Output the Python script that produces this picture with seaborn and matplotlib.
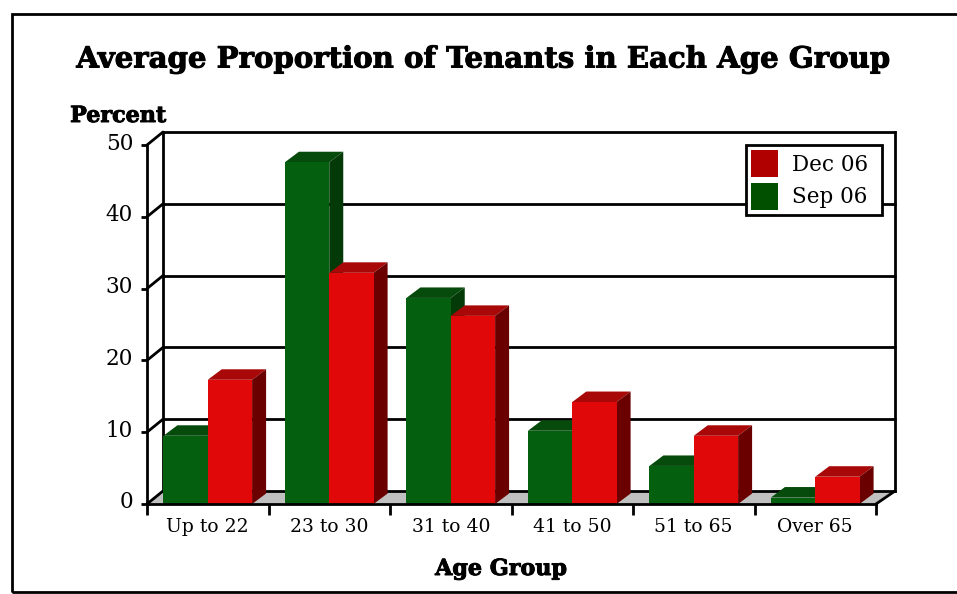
import numpy as np
import pandas as pd
import matplotlib
matplotlib.use('Agg')
import matplotlib.pyplot as plt
import matplotlib.patheffects as pe
from matplotlib.patches import Patch, Polygon, Rectangle
from matplotlib.transforms import ScaledTranslation
import seaborn as sns

age_groups = ['Up to 22', '23 to 30', '31 to 40', '41 to 50', '51 to 65', 'Over 65']
sep_06 = [9.5, 47.6, 28.7, 10.2, 5.3, 0.9]
dec_06 = [17.3, 32.2, 26.2, 14.2, 9.5, 3.8]
y_ticks = [0, 10, 20, 30, 40, 50]

df = pd.DataFrame({
    'age': age_groups * 2,
    'pct': sep_06 + dec_06,
    'month': ['Sep 06'] * 6 + ['Dec 06'] * 6,
})

sns.set_style('white')
plt.rcParams['font.family'] = ['DejaVu Serif']
plt.rcParams['text.color'] = 'black'
plt.rcParams['xtick.color'] = 'black'
plt.rcParams['ytick.color'] = 'black'

W, H = 957, 594
fig = plt.figure(figsize=(W / 100, H / 100), dpi=100)
# front plane of the fake 3d box, in pixels
left, right, top, bottom = 147, 876, 145, 504
ax = fig.add_axes([left / W, 1 - bottom / H, (right - left) / W, (bottom - top) / H])

sns.barplot(data=df, x='age', y='pct', hue='month', order=age_groups,
            hue_order=['Sep 06', 'Dec 06'], palette=['#04600f', '#e00808'],
            width=0.73, gap=0, saturation=1, legend=False, ax=ax)
ax.set_xlim(-0.5, 5.5)
ax.set_ylim(0, 50)

# pixel sizes to data units
ux = 6 / (right - left)
uy = 50 / (bottom - top)
back_dx, back_dy = 16 * ux, 13 * uy
back_right = 5.5 + 19 * ux
bar_dx, bar_dy = 14 * ux, 10.5 * uy

# depth faces
depth_colors = {0: ('#064a0c', '#033a08'), 1: ('#a80808', '#6b0000')}
for i, bar in enumerate(ax.patches[:12]):
    s = i // 6
    x0, x1, h = bar.get_x(), bar.get_x() + bar.get_width(), bar.get_height()
    bar.set_zorder(4 + 2 * s)
    bar.set_linewidth(0)
    ax.add_patch(Polygon([(x0, h), (x1, h), (x1 + bar_dx, h + bar_dy), (x0 + bar_dx, h + bar_dy)],
                         fc=depth_colors[s][0], lw=0, zorder=3 + 2 * s, clip_on=False))
    ax.add_patch(Polygon([(x1, 0), (x1 + bar_dx, bar_dy), (x1 + bar_dx, h + bar_dy), (x1, h)],
                         fc=depth_colors[s][1], lw=0, zorder=3 + 2 * s, clip_on=False))

# floor
ax.add_patch(Polygon([(-0.5, 0), (-0.5 + back_dx, back_dy), (back_right, back_dy), (5.5, 0)],
                     fc='#c0c0c0', lw=0, zorder=1, clip_on=False))
# back wall grid and the short diagonals
for v in y_ticks:
    ax.plot([-0.5 + back_dx, back_right], [v + back_dy, v + back_dy], color='black', lw=2,
            zorder=2, clip_on=False)
    ax.plot([-0.5, -0.5 + back_dx], [v, v + back_dy], color='black', lw=2, zorder=2, clip_on=False)
ax.plot([-0.5 + back_dx] * 2, [back_dy, 50 + back_dy], color='black', lw=2, zorder=2, clip_on=False)
ax.plot([back_right] * 2, [back_dy, 50 + back_dy], color='black', lw=2, zorder=2, clip_on=False,
        solid_capstyle='projecting')
ax.plot([5.5, back_right], [0, back_dy], color='black', lw=2, zorder=2, clip_on=False)

sns.despine(ax=ax, top=True, right=True)
for sp in ['left', 'bottom']:
    ax.spines[sp].set_linewidth(2)
    ax.spines[sp].set_color('black')
    ax.spines[sp].set_zorder(8)

ax.set_xlabel('')
ax.set_ylabel('')
ax.set_xticks(range(6), age_groups)
ax.set_xticks(np.arange(-0.5, 6), minor=True)
ax.tick_params(axis='x', which='major', length=0, labelsize=13.5, pad=10, colors='black')
ax.tick_params(axis='x', which='minor', length=8, width=2, color='black', bottom=True)
ax.set_yticks(y_ticks)
ax.tick_params(axis='y', length=4, width=2, left=True, color='black', labelsize=15.5, pad=6,
               labelcolor='black')
# numbers sit a little above their ticks
for lab in ax.get_yticklabels():
    lab.set_transform(lab.get_transform() + ScaledTranslation(0, 4 / 100, fig.dpi_scale_trans))

handles = [Patch(fc='#b00000', lw=0, label='Dec 06'), Patch(fc='#005000', lw=0, label='Sep 06')]
leg = fig.legend(handles=handles, loc='upper left',
                 bbox_to_anchor=(745.5 / W, 1 - 215 / H, 136 / W, 70 / H),
                 bbox_transform=fig.transFigure, mode='expand', fontsize=15.5, fancybox=False,
                 framealpha=1, edgecolor='black', borderaxespad=0, borderpad=0.25,
                 handlelength=1.25, handleheight=1.555, handletextpad=0.65, labelspacing=0.25)
leg.get_frame().set_linewidth(2)
leg.set_zorder(10)

heavy = [pe.withStroke(linewidth=0.7, foreground='black')]
fig.text(483 / W, 1 - 59 / H, 'Average Proportion of Tenants in Each Age Group', ha='center',
         va='center', fontsize=21, fontweight='bold', path_effects=heavy)
fig.text(118 / W, 1 - 116 / H, 'Percent', ha='center', va='center', fontsize=16, fontweight='bold',
         path_effects=heavy)
fig.text(501 / W, 1 - 569 / H, 'Age Group', ha='center', va='center', fontsize=16, fontweight='bold',
         path_effects=heavy)

# outer border, right side runs off the picture
fig.add_artist(Rectangle((12 / W, 1 - 592 / H), 1.1, 578 / H, transform=fig.transFigure,
                         fc='none', ec='black', lw=2))

fig.savefig('out.png', dpi=100)
